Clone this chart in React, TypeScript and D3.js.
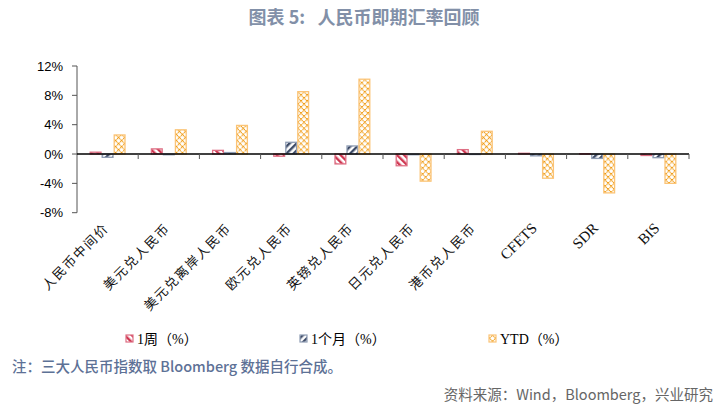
import React from "react";
import * as d3 from "d3";

const categories = ["人民币中间价", "美元兑人民币", "美元兑离岸人民币", "欧元兑人民币", "英镑兑人民币", "日元兑人民币", "港币兑人民币", "CFETS", "SDR", "BIS"];
const seriesNames = ["1周（%）", "1个月（%）", "YTD（%）"];
const week = [0.25, 0.7, 0.5, -0.3, -1.35, -1.6, 0.6, 0.1, 0.05, -0.2];
const month = [-0.45, -0.1, 0.2, 1.6, 1.1, -0.1, 0.0, -0.25, -0.6, -0.5];
const ytd = [2.6, 3.3, 3.9, 8.5, 10.2, -3.7, 3.1, -3.3, -5.3, -4.0];
const yTicks = [12, 8, 4, 0, -4, -8];

export default function App() {
  const W = 722, H = 410;
  const x0 = 77, x1 = 689;
  const y = d3.scaleLinear().domain([-8, 12]).range([212.7, 66]);
  const xb = d3.scaleBand().domain(categories).range([x0, x1]);
  const bw = xb.bandwidth();
  const barW = 12;
  const groupW = barW * 3;
  const series = [week, month, ytd];
  const fills = ["url(#pRed)", "url(#pBlue)", "url(#pYel)"];
  const strokes = ["#de6f84", "#8e9cb3", "#fbc477"];
  const latin = (s: string) => /^[A-Z]+$/.test(s);
  const legendX = [126, 300, 489];

  return (
    <svg width={W} height={H} style={{ display: "block", position: "absolute", left: 0, top: 0 }}>
      <defs>
        <pattern id="pRed" patternUnits="userSpaceOnUse" width="5" height="5" patternTransform="rotate(-45)">
          <rect width="5" height="5" fill="#fff" />
          <rect width="2.4" height="5" fill="#cf3650" />
        </pattern>
        <pattern id="pBlue" patternUnits="userSpaceOnUse" width="5" height="5" patternTransform="rotate(45)">
          <rect width="5" height="5" fill="#fff" />
          <rect width="2.4" height="5" fill="#3c4a66" />
        </pattern>
        <pattern id="pYel" patternUnits="userSpaceOnUse" width="4.3" height="4.3" patternTransform="rotate(45)">
          <rect width="4.3" height="4.3" fill="#fff" />
          <line x1="0" y1="0.5" x2="4.3" y2="0.5" stroke="#f09a10" strokeWidth="1.1" strokeDasharray="1.2 0.5" />
          <line x1="0.5" y1="0" x2="0.5" y2="4.3" stroke="#f09a10" strokeWidth="1.1" strokeDasharray="1.2 0.5" />
        </pattern>
      </defs>
      <rect width={W} height={H} fill="#fff" />
      <text x={364} y={24} textAnchor="middle" fontFamily="Noto Sans CJK SC" fontWeight="bold" fontSize={18} fill="#8290a8" style={{ whiteSpace: "pre" }}>{"图表 5:   人民币即期汇率回顾"}</text>

      {/* bars */}
      {series.map((vals, si) =>
        vals.map((v, i) => {
          const bx = (xb(categories[i]) as number) + (bw - groupW) / 2 + si * barW;
          const yt = y(Math.max(v, 0));
          const h = Math.abs(y(v) - y(0));
          return (
            <rect key={si + "-" + i} x={bx + 0.6} y={yt} width={barW - 1.2} height={Math.max(h, 0.5)}
              fill={fills[si]} stroke={strokes[si]} strokeWidth={1.3} />
          );
        })
      )}

      {/* y axis */}
      <line x1={x0} x2={x0} y1={y(12)} y2={y(-8)} stroke="#555" strokeWidth={1} />
      {yTicks.map((t) => (
        <g key={t}>
          <line x1={x0 - 5} x2={x0} y1={y(t)} y2={y(t)} stroke="#555" />
          <text x={63} y={y(t) + 4.5} textAnchor="end" fontFamily="Liberation Sans, Arial" fontSize={13} fill="#000">{t}%</text>
        </g>
      ))}
      {/* zero axis */}
      <line x1={x0} x2={x1} y1={y(0)} y2={y(0)} stroke="#000" strokeWidth={1.3} />
      {categories.map((c, i) => (
        <line key={c} x1={x0 + bw * (i + 1)} x2={x0 + bw * (i + 1)} y1={y(0)} y2={y(0) + 5} stroke="#555" />
      ))}
      {/* x labels */}
      {categories.map((c) => {
        const cx = (xb(c) as number) + bw / 2 + 2;
        return (
          <text key={c} transform={`translate(${cx},${229}) rotate(-45)`} textAnchor="end"
            fontFamily={latin(c) ? "Liberation Serif, Times New Roman" : "Noto Sans CJK SC"}
            fontSize={latin(c) ? 15 : 13} letterSpacing={latin(c) ? 0 : 1.6} fill="#111">{c}</text>
        );
      })}

      {/* legend */}
      {seriesNames.map((n, i) => (
        <g key={n}>
          <rect x={legendX[i]} y={335} width={7} height={7} fill={fills[i]} stroke={strokes[i]} strokeWidth={1.2} />
          <text x={legendX[i] + 11} y={343.5} fontFamily="Liberation Serif, Noto Sans CJK SC" fontSize={14} fill="#000">{n}</text>
        </g>
      ))}

      <text x={12} y={372} fontFamily="Noto Sans CJK SC" fontSize={14.5} fill="#5d7196" fontWeight="500">注：三大人民币指数取 Bloomberg 数据自行合成。</text>
      <text x={713} y={400} textAnchor="end" fontFamily="Noto Sans CJK SC" fontSize={14.5} fill="#666">资料来源：Wind，Bloomberg，兴业研究</text>
    </svg>
  );
}
